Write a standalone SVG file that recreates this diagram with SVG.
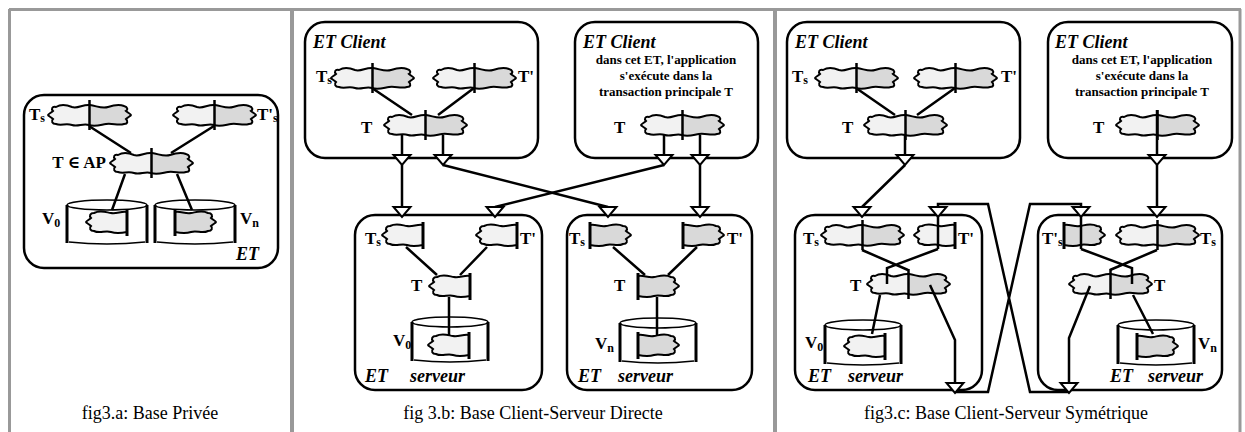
<svg xmlns="http://www.w3.org/2000/svg" width="1245" height="432" viewBox="0 0 1245 432">
<style>
.frame{stroke:#999;stroke-width:3;fill:none}
.div{stroke:#999;stroke-width:4;fill:none}
.box{fill:#fff;stroke:#000;stroke-width:2.5}
.ln{fill:none;stroke:#000;stroke-width:2.5}
.lt{fill:#f2f2f2}
.dk{fill:#d9d9d9}
text{font-family:"Liberation Serif","DejaVu Serif",serif;fill:#000}
.lbl{font-size:17px;font-weight:bold}
.sub{font-size:12px}
.et{font-size:18px;font-weight:bold;font-style:italic}
.note{font-size:13px;font-weight:bold;text-anchor:middle}
.cap{font-size:18px;text-anchor:middle}
</style>
<defs>
<linearGradient id="split" x1="0" y1="0" x2="1" y2="0"><stop offset="0.5" stop-color="#f2f2f2"/><stop offset="0.5" stop-color="#d9d9d9"/></linearGradient>
<g id="cf"><path d="M8,4 C13,1 19,2 24,4 C30,6 35,1 42,2 C49,3 54,6 60,4 C66,2 71,1 76,3 C80,4 80,7 78,8 C80,10 83,11 83,12 C83,13 80,14 78,16 C80,18 80,21 76,21 C70,23 65,20 58,21 C52,22 47,24 41,22 C35,20 30,24 24,22 C18,20 13,23 8,21 C4,21 3,18 5,16 C3,14 0,13 0,12 C0,11 3,10 5,8 C3,6 4,3 8,4 Z" fill="url(#split)" stroke="#000" stroke-width="2"/><line x1="41.5" y1="-3" x2="41.5" y2="27" stroke="#000" stroke-width="2.5"/></g>
<g id="hc"><path d="M42,3 C36,2 32,5 26,4 C20,3 15,1 9,4 C5,4 4,7 6,9 C4,11 1,12 1,13 C1,14 4,15 6,17 C4,19 5,22 9,22 C15,25 20,21 26,23 C32,25 37,24 42,23 Z" stroke="#000" stroke-width="2"/><line x1="42" y1="0" x2="42" y2="27" stroke="#000" stroke-width="3"/></g>
<path id="tri" d="M-8.5,0H8.5L0,10Z" fill="#fff" stroke="#000" stroke-width="2"/>
<g id="cyl" fill="none" stroke="#000"><ellipse cx="38" cy="5" rx="38" ry="5" stroke-width="1.5"/><path d="M0,5V44M76,5V44" stroke-width="3"/><path d="M2,43Q38,47 74,43" stroke-width="1.5"/></g>
<g id="cylA" fill="none" stroke="#000"><ellipse cx="40" cy="5" rx="40" ry="5" stroke-width="1.5"/><path d="M0,5V43M80,5V43" stroke-width="3"/><path d="M2,42Q40,46 78,42" stroke-width="1.5"/></g>
</defs>
<rect width="1245" height="432" fill="#fff"/>
<g id="frame">
<path class="frame" d="M9,9.5H1241M9.5,9V432M1240,9V432"/>
<path class="div" d="M292,9V432M775,9V432"/>
<text class="cap" x="150" y="419">fig3.a: Base Privée</text>
<text class="cap" x="533" y="419">fig 3.b: Base Client-Serveur Directe</text>
<text class="cap" x="1006" y="419">fig3.c: Base Client-Serveur Symétrique</text>
</g>

<g id="et-a">
<rect class="box" x="24" y="95" width="254" height="173" rx="20"/>
<text class="et" x="236" y="260">ET</text>
</g>
<g id="a-ts"><use href="#cf" x="48" y="103"/><text class="lbl" x="29" y="120">T<tspan class="sub" dy="2">s</tspan></text></g>
<g id="a-tps"><use href="#cf" x="173" y="103"/><text class="lbl" x="257" y="120">T'<tspan class="sub" dy="2">s</tspan></text></g>
<g id="a-t"><use href="#cf" x="110" y="151"/><text class="lbl" x="106" y="168" text-anchor="end">T ∈ AP</text></g>
<g id="a-v0"><use href="#cylA" x="67" y="200"/><use href="#hc" class="lt" x="85" y="209"/><text class="lbl" x="42" y="224">V<tspan class="sub" dy="3">0</tspan></text></g>
<g id="a-vn"><use href="#cylA" x="155" y="200"/><use href="#hc" class="dk" transform="translate(217,209) scale(-1,1)"/><text class="lbl" x="240" y="224">V<tspan class="sub" dy="3">n</tspan></text></g>

<g id="b-client1">
<rect class="box" x="305" y="22" width="233" height="136" rx="20"/>
<text class="et" x="313" y="48">ET Client</text>
<use href="#cf" x="331" y="66"/><text class="lbl" x="316" y="82">T<tspan class="sub" dy="2">s</tspan></text>
<use href="#cf" x="433" y="66"/><text class="lbl" x="518" y="82">T'</text>
<use href="#cf" x="384" y="113"/><text class="lbl" x="361" y="133">T</text>
</g>
<g id="b-client2">
<rect class="box" x="575" y="22" width="183" height="136" rx="20"/>
<text class="et" x="583" y="48">ET Client</text>
<text class="note" x="666" y="64">dans cet ET, l'application</text>
<text class="note" x="666" y="80">s'exécute dans la</text>
<text class="note" x="666" y="96">transaction principale T</text>
<use href="#cf" x="641" y="113"/><text class="lbl" x="614" y="133">T</text>
</g>
<g id="b-server1">
<rect class="box" x="355" y="215" width="187" height="175" rx="20"/>
<use href="#hc" class="lt" x="381" y="222"/><text class="lbl" x="365" y="244">T<tspan class="sub" dy="2">s</tspan></text>
<use href="#hc" class="lt" x="475" y="222"/><text class="lbl" x="520" y="244">T'</text>
<use href="#hc" class="lt" x="428" y="273"/><text class="lbl" x="411" y="291">T</text>
<use href="#cyl" x="412" y="317"/><use href="#hc" class="lt" x="427" y="332"/><text class="lbl" x="393" y="346">V<tspan class="sub" dy="3">0</tspan></text>
<text class="et" x="365" y="382">ET</text><text class="et" x="410" y="382">serveur</text>
</g>
<g id="b-server2">
<rect class="box" x="567" y="215" width="185" height="175" rx="20"/>
<use href="#hc" class="dk" transform="translate(632,222) scale(-1,1)"/><text class="lbl" x="569" y="244">T<tspan class="sub" dy="2">s</tspan></text>
<use href="#hc" class="dk" transform="translate(725,222) scale(-1,1)"/><text class="lbl" x="727" y="244">T'</text>
<use href="#hc" class="dk" transform="translate(680,273) scale(-1,1)"/><text class="lbl" x="614" y="291">T</text>
<use href="#cyl" x="620" y="318"/><use href="#hc" class="dk" transform="translate(680,332) scale(-1,1)"/><text class="lbl" x="595" y="349">V<tspan class="sub" dy="3">n</tspan></text>
<text class="et" x="578" y="382">ET</text><text class="et" x="618" y="382">serveur</text>
</g>

<g id="c-client1">
<rect class="box" x="787" y="22" width="233" height="136" rx="20"/>
<text class="et" x="795" y="48">ET Client</text>
<use href="#cf" x="815" y="66"/><text class="lbl" x="792" y="82">T<tspan class="sub" dy="2">s</tspan></text>
<use href="#cf" x="914" y="66"/><text class="lbl" x="1001" y="82">T'</text>
<use href="#cf" x="864" y="113"/><text class="lbl" x="842" y="133">T</text>
</g>
<g id="c-client2">
<rect class="box" x="1048" y="22" width="184" height="136" rx="20"/>
<text class="et" x="1055" y="48">ET Client</text>
<text class="note" x="1142" y="64">dans cet ET, l'application</text>
<text class="note" x="1142" y="80">s'exécute dans la</text>
<text class="note" x="1142" y="96">transaction principale T</text>
<use href="#cf" x="1116" y="113"/><text class="lbl" x="1093" y="133">T</text>
</g>
<g id="c-server1">
<rect class="box" x="795" y="215" width="187" height="175" rx="20"/>
<use href="#cf" x="821" y="223"/><text class="lbl" x="803" y="244">T<tspan class="sub" dy="2">s</tspan></text>
<use href="#hc" class="lt" x="913" y="222"/><text class="lbl" x="958" y="244">T'</text>
<use href="#cf" x="867" y="272"/><text class="lbl" x="850" y="291">T</text>
<use href="#cyl" x="825" y="320"/><use href="#hc" class="lt" x="843" y="333"/><text class="lbl" x="805" y="348">V<tspan class="sub" dy="3">0</tspan></text>
<text class="et" x="808" y="382">ET</text><text class="et" x="848" y="382">serveur</text>
</g>
<g id="c-server2">
<rect class="box" x="1038" y="215" width="184" height="175" rx="20"/>
<use href="#hc" class="dk" transform="translate(1106,222) scale(-1,1)"/><text class="lbl" x="1042" y="244">T'<tspan class="sub" dy="2">s</tspan></text>
<use href="#cf" x="1116" y="223"/><text class="lbl" x="1200" y="244">T<tspan class="sub" dy="2">s</tspan></text>
<use href="#cf" x="1069" y="272"/><text class="lbl" x="1154" y="291">T</text>
<use href="#cyl" x="1118" y="320"/><use href="#hc" class="dk" transform="translate(1179,333) scale(-1,1)"/><text class="lbl" x="1198" y="349">V<tspan class="sub" dy="3">n</tspan></text>
<text class="et" x="1110" y="382">ET</text><text class="et" x="1148" y="382">serveur</text>
</g>

<g id="connectors" class="ln">
<path d="M89,126L131,153M214,126L171,153M125,174L112,210M177,174L192,210"/>
<path d="M372,88L412,115M474,88L438,115M402,135V155M443,135V155M402,165V207M443,165L608,207"/>
<path d="M664,135V155M700,135V155M664,165L495,207M700,165V207"/>
<path d="M406,247L437,275M487,247L460,275M449,297V336"/>
<path d="M613,247L645,275M697,247L668,275M657,297V336"/>
<path d="M856,88L895,115M955,88L917,115M905,135V155M905,165L862,207"/>
<path d="M1157,110V155M1157,165V207"/>
<path d="M938,217V249M862,250L908,270M938,249L887,268V284M880,295L872,334M930,285L955,340V383"/>
<path d="M955,392H988L1030,204H1081V207M938,207V204H988L1030,392H1069"/>
<path d="M1069,383V338L1090,286M1081,217V249M1157,250L1110,270M1081,249L1132,268V284M1133,295L1153,334"/>
<use href="#tri" x="402" y="155"/><use href="#tri" x="443" y="155"/>
<use href="#tri" x="664" y="155"/><use href="#tri" x="700" y="155"/>
<use href="#tri" x="402" y="207"/><use href="#tri" x="495" y="207"/>
<use href="#tri" x="608" y="207"/><use href="#tri" x="700" y="207"/>
<use href="#tri" x="905" y="155"/><use href="#tri" x="1157" y="155"/>
<use href="#tri" x="862" y="207"/><use href="#tri" x="938" y="207"/>
<use href="#tri" x="1081" y="207"/><use href="#tri" x="1157" y="207"/>
<use href="#tri" x="955" y="383"/><use href="#tri" x="1069" y="383"/>
</g>
</svg>
